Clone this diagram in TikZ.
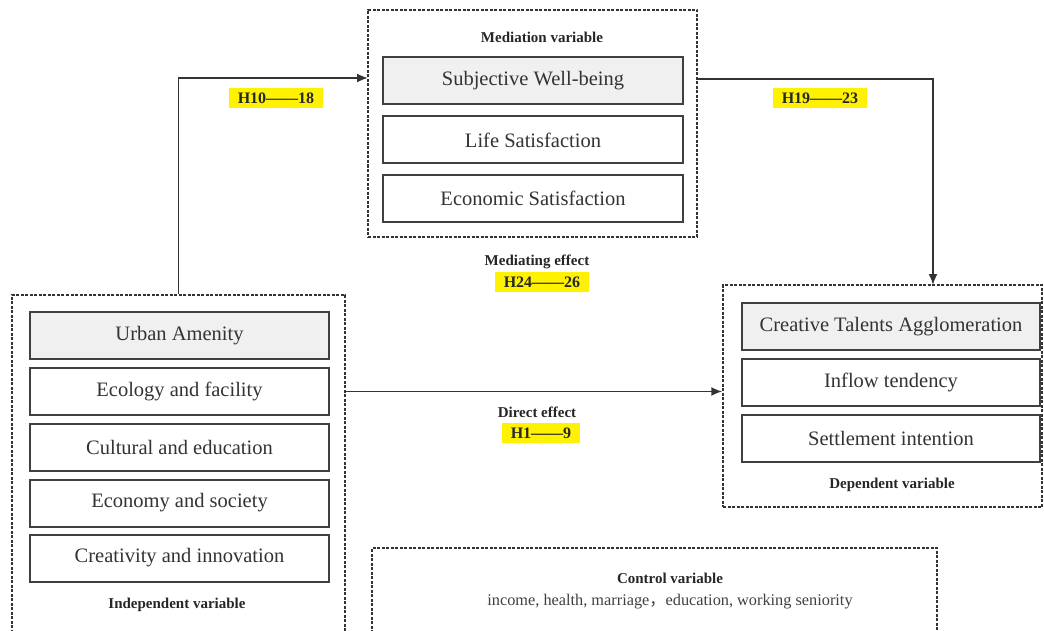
\documentclass[tikz,border=0pt]{standalone}
\usepackage{fontspec}
\setmainfont{Liberation Serif}
\newfontfamily\cjk{Noto Sans CJK SC}
\usetikzlibrary{arrows.meta}

\begin{document}
\begin{tikzpicture}[x=1pt, y=-1pt, >={Latex[length=11pt,width=9pt]},
	group/.style={draw=black!80, dash pattern=on 3pt off 1.5pt, line width=1.5pt, inner sep=0pt},
	item/.style={draw=black!75, line width=2pt, minimum width=299pt, minimum height=47pt, inner sep=0pt, font=\fontsize{20.5}{23}\selectfont, text=black!80},
	head/.style={fill=black!6},
	title/.style={font=\bfseries\fontsize{15}{18}\selectfont, text=black!85},
	hyp/.style={fill=yellow, font=\bfseries\fontsize{16}{19}\selectfont, text=black!85, inner xsep=9pt, inner ysep=5pt},
	link/.style={->, draw=black!80, line width=1.8pt}]
	\useasboundingbox (0,0) rectangle (1044,631);
	\fill [white] (0,0) rectangle (1044,631);
	\node [group, minimum width=333pt, minimum height=345pt] (indep) at (178.5,467.5) {};
	\node [group, minimum width=329pt, minimum height=227pt] (med) at (532.5,123.5) {};
	\node [group, minimum width=319pt, minimum height=222pt] (dep) at (882.5,396) {};
	\node [group, minimum width=565pt, minimum height=102pt] (ctrl) at (654.5,599) {};
	\node [item, head] (amenity) at (179.5,335.5) {Urban Amenity};
	\node [item] (ecology) at (179.5,391.5) {Ecology and facility};
	\node [item] (culture) at (179.5,447.5) {Cultural and education};
	\node [item] (economy) at (179.5,503) {Economy and society};
	\node [item] (creativity) at (179.5,558) {Creativity and innovation};
	\node [title] (indeplabel) at (177,605) {Independent variable};
	\node [title] (medlabel) at (542,37) {Mediation variable};
	\node [item, head, minimum width=300pt] (wellbeing) at (533,81) {Subjective Well-being};
	\node [item, minimum width=300pt] (life) at (533,140) {Life Satisfaction};
	\node [item, minimum width=300pt] (econsat) at (533,198.5) {Economic Satisfaction};
	\node [item, head, minimum width=298pt] (talents) at (891,326.5) {Creative Talents Agglomeration};
	\node [item, minimum width=298pt] (inflow) at (891,382.5) {Inflow tendency};
	\node [item, minimum width=298pt] (settle) at (891,438) {Settlement intention};
	\node [title] (deplabel) at (892,485) {Dependent variable};
	\node [title] (ctrllabel) at (670,578) {Control variable};
	\node [font=\fontsize{16.3}{19}\selectfont, text=black!75] (ctrllist) at (670,602) {income, health, marriage{\cjk ，}education, working seniority};
	\coordinate (medin) at (368,78);
	\coordinate (medout) at (697,79);
	\coordinate (depin) at (933,285);
	\draw [link] (indep.north) |- (medin);
	\draw [link] (medout) -| (depin);
	\draw [link] (ecology -| indep.east) -- (ecology -| dep.west);
	\node [hyp] (h10) at (276,98) {H10——18};
	\node [hyp] (h19) at (820,98) {H19——23};
	\node [title] (mediating) at (537,262) {Mediating effect};
	\node [hyp] (h24) at (542,282) {H24——26};
	\node [title] (direct) at (537,412) {Direct effect};
	\node [hyp] (h1) at (541,433) {H1——9};
\end{tikzpicture}
\end{document}
